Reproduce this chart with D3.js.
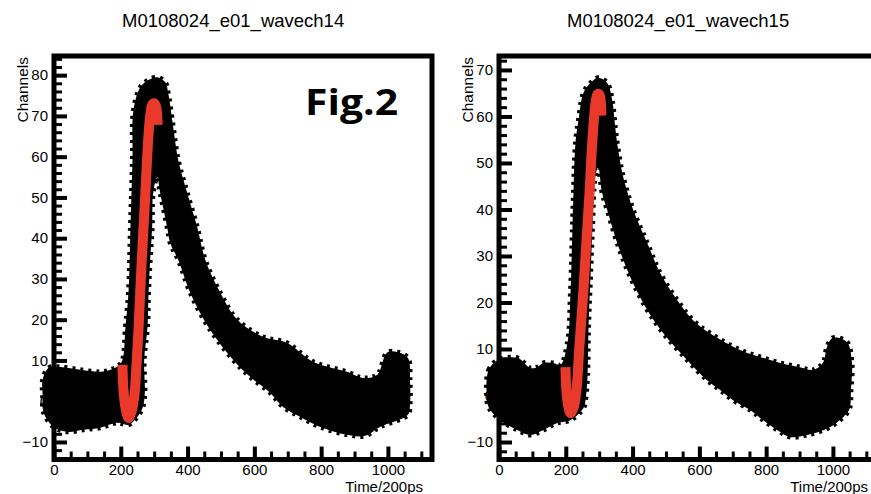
<!DOCTYPE html>
<html>
<head>
<meta charset="utf-8">
<script src="https://cdn.jsdelivr.net/npm/d3@7"></script>
<style>
  body { margin: 0; background: #fff; }
  svg { display: block; }
</style>
</head>
<body>
<svg id="chart" width="871" height="494"></svg>
<script>
// ---- waveform data -------------------------------------------------------
// Each waveform is drawn as the noise envelope of its samples:
// upper edge from left to right, lower edge back from right to left.
const ch14UpperT = [-34, -16, 19, 79, 139, 169, 193, 205, 214, 223, 229, 235, 238, 259, 283, 309, 333, 342, 357, 372, 399, 429, 453, 498, 549, 626, 698, 776, 877, 925, 968, 997, 1027, 1060, 1066, 1066];
const ch14UpperY = [5.2, 8.2, 8.4, 7.7, 7.2, 7.7, 8.7, 10.1, 18.2, 26.6, 42.7, 59.2, 71.4, 77.1, 78.8, 79.5, 78.3, 75.6, 67.3, 59.2, 51.1, 42.7, 34.7, 26.6, 20.0, 15.8, 14.3, 9.7, 7.2, 5.7, 6.5, 11.9, 12.1, 10.6, 5.2, -0.9];
const ch14LowerT = [1060, 976, 931, 877, 797, 737, 686, 647, 587, 537, 462, 408, 372, 348, 339, 318, 309, 297, 294, 288, 283, 280, 270, 272, 266, 250, 223, 190, 139, 88, 40, -1, -31, -34];
const ch14LowerY = [-3.3, -6.3, -8.5, -8.2, -6.3, -3.8, -1.4, 2.1, 6.0, 10.1, 18.2, 26.6, 34.7, 38.8, 42.7, 51.1, 55.0, 51.1, 42.7, 34.7, 26.6, 18.2, 10.1, 2.1, -1.4, -3.8, -5.8, -5.3, -6.5, -7.0, -7.5, -6.3, -2.8, 1.6];

const ch15UpperT = [-37, -31, -4, 55, 94, 115, 133, 163, 184, 205, 214, 220, 223, 229, 238, 253, 274, 297, 324, 339, 348, 357, 372, 402, 444, 483, 534, 581, 632, 722, 782, 842, 901, 940, 970, 982, 1000, 1042, 1057, 1054, 1051];
const ch15UpperY = [0.1, 5.5, 7.6, 8.1, 5.9, 6.1, 7.0, 7.0, 6.6, 11.3, 22.0, 36.2, 43.5, 54.3, 59.2, 65.1, 67.2, 68.3, 67.2, 63.5, 57.7, 52.8, 47.0, 39.9, 32.8, 26.3, 20.5, 16.2, 13.4, 9.8, 8.3, 7.0, 6.1, 5.5, 7.0, 10.4, 12.4, 11.5, 7.0, 1.2, -2.5];
const ch15LowerT = [1042, 991, 922, 871, 833, 791, 752, 701, 662, 623, 564, 492, 444, 393, 354, 324, 309, 297, 288, 280, 274, 268, 265, 259, 253, 214, 175, 133, 94, 55, 4, -31];
const ch15LowerY = [-3.8, -6.8, -8.5, -8.9, -7.4, -5.3, -3.1, -1.0, 1.2, 3.3, 7.6, 13.4, 18.4, 25.5, 32.8, 39.9, 43.5, 49.1, 47.0, 36.2, 25.5, 14.7, 4.0, -1.0, -2.7, -5.3, -5.9, -7.4, -8.5, -7.4, -5.3, -2.5];

// ---- fitted leading edge -------------------------------------------------
const ch14FitT = [205, 208, 214, 223, 232, 241, 247, 253, 262, 271, 277, 283, 289, 295, 300, 306, 309, 310.3];
const ch14FitY = [8.9, 2.8, -1.6, -4.1, -2.6, 1.6, 8.9, 17.5, 33.4, 46.9, 56.7, 65.3, 70.7, 72.9, 73.1, 72.2, 70.3, 67.8];
const ch15FitT = [199, 202, 208, 214, 223, 232, 241, 253, 262, 271, 277, 283, 289, 295, 300, 305, 306, 306.5];
const ch15FitY = [6.1, 0.8, -2.5, -3.8, -2.7, 1.2, 10.9, 22.7, 33.4, 43.5, 51.7, 58.2, 62.9, 64.8, 64.8, 63.0, 61.5, 60.2];

// ---- axes ----------------------------------------------------------------
const xTicks = [0, 200, 400, 600, 800, 1000];
const xMinorStep = 50;
const yTicks14 = [-10, 0, 10, 20, 30, 40, 50, 60, 70, 80];
const yTicks15 = [-10, 0, 10, 20, 30, 40, 50, 60, 70];
const yMinorStep = 2;
const titles = ["M0108024_e01_wavech14", "M0108024_e01_wavech15"];
const xTitle = "Time/200ps";
const yTitle = "Channels";
const note = "Fig.2";

const FONT = "'Liberation Sans', Arial, Helvetica, sans-serif";
const RED = "#e8392b";
const svg = d3.select("#chart");

const panels = [
  { title: titles[0], upT: ch14UpperT, upY: ch14UpperY, loT: ch14LowerT, loY: ch14LowerY,
    fitT: ch14FitT, fitY: ch14FitY, yTicks: yTicks14,
    box: { left: 54, right: 432, top: 56, bottom: 459.5 },
    xDomain: [0, 1132], yDomain: [-14.3, 84.7], titleX: 122, yTitleX: 28 },
  { title: titles[1], upT: ch15UpperT, upY: ch15UpperY, loT: ch15LowerT, loY: ch15LowerY,
    fitT: ch15FitT, fitY: ch15FitY, yTicks: yTicks15,
    box: { left: 499, right: 877, top: 56, bottom: 459.5 },
    xDomain: [0, 1132], yDomain: [-13.76, 73.0], titleX: 567, yTitleX: 473 }
];

function styleAxis(sel, width) {
  sel.select(".domain").remove();
  sel.selectAll(".tick line").attr("stroke", "#000").attr("stroke-width", width);
  sel.selectAll(".tick text")
    .attr("fill", "#000")
    .style("font-family", FONT)
    .style("font-size", "15px");
}

panels.forEach((p) => {
  const b = p.box;
  const x = d3.scaleLinear().domain(p.xDomain).range([b.left, b.right]);
  const y = d3.scaleLinear().domain(p.yDomain).range([b.bottom, b.top]);
  const g = svg.append("g");

  // title
  g.append("text")
    .attr("x", p.titleX).attr("y", 27)
    .style("font-family", FONT).style("font-size", "18.5px")
    .text(p.title);

  // frame
  g.append("rect")
    .attr("x", b.left).attr("y", b.top)
    .attr("width", b.right - b.left).attr("height", b.bottom - b.top)
    .attr("fill", "none").attr("stroke", "#000").attr("stroke-width", 5);

  // minor ticks
  const xMinor = d3.range(0, p.xDomain[1], xMinorStep);
  const yMinor = d3.range(-12, p.yDomain[1], yMinorStep);
  g.append("g").attr("transform", `translate(0,${b.bottom})`)
    .call(d3.axisBottom(x).tickValues(xMinor).tickSize(-8).tickFormat(""))
    .call(s => styleAxis(s, 3));
  g.append("g").attr("transform", `translate(${b.left},0)`)
    .call(d3.axisLeft(y).tickValues(yMinor).tickSize(-8).tickFormat(""))
    .call(s => styleAxis(s, 3));

  // major ticks with labels
  g.append("g").attr("transform", `translate(0,${b.bottom})`)
    .call(d3.axisBottom(x).tickValues(xTicks).tickSize(-13).tickPadding(5).tickFormat(d3.format("d")))
    .call(s => styleAxis(s, 4));
  g.append("g").attr("transform", `translate(${b.left},0)`)
    .call(d3.axisLeft(y).tickValues(p.yTicks).tickSize(-13).tickPadding(6).tickFormat(d3.format("d")))
    .call(s => styleAxis(s, 4));

  // axis titles
  g.append("text")
    .attr("x", b.left + 369).attr("y", 492)
    .attr("text-anchor", "end")
    .style("font-family", FONT).style("font-size", "15px")
    .text(xTitle);
  g.append("text")
    .attr("transform", `translate(${p.yTitleX},57) rotate(-90)`)
    .attr("text-anchor", "end")
    .style("font-family", FONT).style("font-size", "15.5px")
    .text(yTitle);

  // waveform envelope with ragged marker edge
  const outline = p.upT.map((t, i) => [t, p.upY[i]])
    .concat(p.loT.map((t, i) => [t, p.loY[i]]));
  const area = d3.line()
    .x(d => x(d[0])).y(d => y(d[1]))
    .curve(d3.curveCatmullRomClosed.alpha(0.5));
  g.append("path")
    .attr("d", area(outline))
    .attr("fill", "#000")
    .attr("stroke", "#000")
    .attr("stroke-width", 5)
    .attr("stroke-dasharray", "3 5");

  // fitted rising edge
  const fit = p.fitT.map((t, i) => [t, p.fitY[i]]);
  const fitLine = d3.line()
    .x(d => x(d[0])).y(d => y(d[1]))
    .curve(d3.curveCatmullRom.alpha(0.5));
  g.append("path")
    .attr("d", fitLine(fit))
    .attr("fill", "none")
    .attr("stroke", RED)
    .attr("stroke-width", 10)
    .attr("stroke-linecap", "butt")
    .attr("stroke-linejoin", "round");
});

// figure tag
svg.append("text")
  .attr("x", 305).attr("y", 115)
  .attr("textLength", 93).attr("lengthAdjust", "spacingAndGlyphs")
  .style("font-family", "'Open Sans', 'Noto Sans', sans-serif")
  .style("font-weight", "bold")
  .style("font-size", "35px")
  .text(note);
</script>
</body>
</html>
